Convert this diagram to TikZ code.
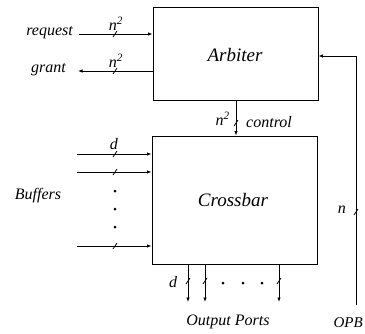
\documentclass[tikz,border=0pt]{standalone}
\usepackage{fontspec}
\setmainfont{Liberation Serif}
\usetikzlibrary{arrows.meta}
\begin{document}
\begin{tikzpicture}[x=1pt,y=-1pt,
  wire/.style={line width=0.8pt},
  arr/.style={wire,-{Latex[length=4.5pt,width=3.5pt]}},
  blk/.style={draw,line width=0.9pt,rectangle,inner sep=0pt,font=\fontsize{19}{21}\selectfont\itshape},
  lbl/.style={font=\fontsize{16}{18}\selectfont\itshape,inner sep=1pt},
  dotm/.style={circle,fill,inner sep=0pt,minimum size=3pt}]
\useasboundingbox (0,0) rectangle (365,333);
% blocks
\node[blk,minimum width=165pt,minimum height=93pt] (arb) at (235.5,53.5) {};
\node[blk,minimum width=165pt,minimum height=128pt] (xb) at (234.5,200) {};
\node[blk,draw=none] (arbl) at (235,55) {Arbiter};
\node[blk,draw=none] (xbl) at (233,200) {Crossbar};
% request / grant
\coordinate (req) at (79,34);
\coordinate (gnt) at (78,71);
\draw[arr] (req) -- (req -| arb.west);
\draw[arr] (gnt -| arb.west) -- (gnt);
\draw[wire] (113,37) -- (117,31);
\draw[wire] (113,74) -- (117,68);
\node[lbl,anchor=east] (reql) at (74,33) {request};
\node[lbl,anchor=east] (gntl) at (67,70) {grant};
\node[lbl] (n1) at (116,24) {n\textsuperscript{2}};
\node[lbl] (n2) at (116,61) {n\textsuperscript{2}};
% control
\coordinate (ctop) at (236,100);
\draw[arr] (ctop) -- (ctop |- xb.north);
\draw[wire] (234,126) -- (238,120);
\node[lbl,anchor=east] (n3) at (231,119) {n\textsuperscript{2}};
\node[lbl,anchor=west] (ctl) at (245,122) {control};
% OPB
\coordinate (opb) at (356,305);
\coordinate (opbt) at (356,56);
\draw[arr] (opb) -- (opbt) -- (opbt -| arb.east);
\draw[wire] (354,215) -- (358,209);
\node[lbl,anchor=east] (nl) at (347,210) {n};
\node[lbl,anchor=east,font=\fontsize{15}{17}\selectfont\itshape] (opbl) at (364,323) {OPB};
% buffers
\coordinate (b1) at (77,154);
\coordinate (b2) at (77,172);
\coordinate (b3) at (77,246);
\draw[arr] (b1) -- (b1 -| xb.west);
\draw[arr] (b2) -- (b2 -| xb.west);
\draw[arr] (b3) -- (b3 -| xb.west);
\draw[wire] (113,157) -- (117,151);
\draw[wire] (113,175) -- (117,169);
\draw[wire] (113,249) -- (117,243);
\node[lbl] (dl) at (114,144) {d};
\node[dotm] (d1) at (115,191) {};
\node[dotm] (d2) at (115,209) {};
\node[dotm] (d3) at (115,227) {};
\node[lbl] (bufl) at (38,196) {Buffers};
% outputs
\coordinate (o1) at (188,302);
\coordinate (o2) at (205,302);
\coordinate (o3) at (279,302);
\draw[arr] (o1 |- xb.south) -- (o1);
\draw[arr] (o2 |- xb.south) -- (o2);
\draw[arr] (o3 |- xb.south) -- (o3);
\draw[wire] (186,284) -- (190,278);
\draw[wire] (203,284) -- (207,278);
\draw[wire] (277,284) -- (281,278);
\node[lbl] (dl2) at (173,282) {d};
\node[dotm] (e1) at (223,283) {};
\node[dotm] (e2) at (243,283) {};
\node[dotm] (e3) at (262,283) {};
\node[lbl] (outl) at (228,322) {Output Ports};
\end{tikzpicture}
\end{document}
